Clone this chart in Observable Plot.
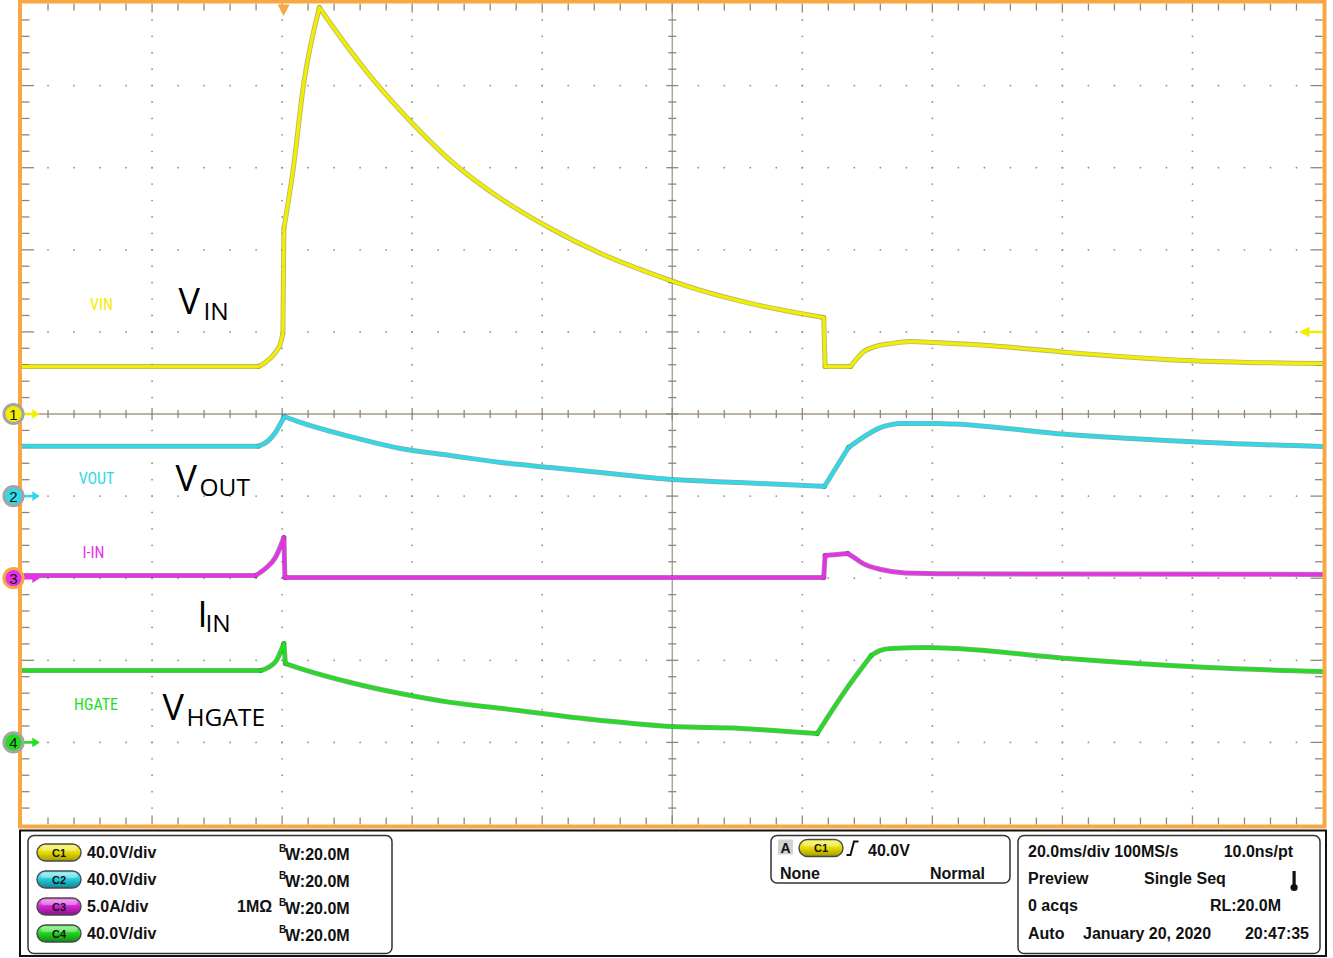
<!DOCTYPE html>
<html><head><meta charset="utf-8">
<script src="https://cdn.jsdelivr.net/npm/d3@7"></script>
<script src="https://cdn.jsdelivr.net/npm/@observablehq/plot@0.6"></script>
<style>
html,body{margin:0;padding:0;background:#fff;overflow:hidden;}
#wrap{width:1333px;height:958px;overflow:hidden;background:#fff;}
#wrap svg{display:block;}
</style></head><body><div id="wrap"></div>
<script>
// ---- Data (time in ms relative to trigger, values in V / A) ----
const vinT  = [-40, -3.65, -2.57, -1.03, -0.26, 0.12, 0.28, 1.74, 3.28, 5.74, 7.89, 13.1, 18.2, 25.9, 33.6, 41.3, 49.0, 56.7, 64.4, 72.0, 79.7, 83.3, 83.5, 87.4, 88.3, 89.3, 91.3, 93.6, 96.7, 100.4, 110.5, 120.8, 138.8, 160];
const vinV  = [23.1, 23.1, 25.1, 30.0, 34.3, 39.2, 90.4, 120.1, 160.0, 198.0, 188.3, 166.4, 147.8, 123.5, 105.0, 90.4, 78.2, 68.5, 60.2, 53.9, 49.0, 47.0, 23.1, 23.1, 26.6, 30.0, 32.9, 34.3, 35.3, 34.8, 32.9, 30.0, 26.1, 24.6];
const voutT = [-40, -3.65, -2.26, -1.03, 0.35, 2.82, 10.5, 18.2, 25.9, 33.6, 41.3, 49.0, 60.0, 70.5, 83.4, 87.1, 89.3, 92.0, 93.5, 95.0, 100.7, 120.8, 142.4, 160];
const voutV = [24.3, 24.3, 26.6, 31.0, 38.8, 35.9, 29.0, 23.2, 19.8, 16.4, 13.9, 11.5, 8.1, 6.6, 4.7, 23.7, 28.5, 33.4, 34.7, 35.4, 35.4, 30.0, 26.1, 24.2];
const iinT  = [-40, -4.1, -2.57, -1.03, 0.28, 0.43, 83.3, 83.5, 87.0, 88.0, 89.3, 92.1, 95.8, 102.8, 160];
const iinV  = [0.16, 0.16, 0.59, 1.26, 2.48, 0.04, 0.04, 1.38, 1.50, 1.25, 0.90, 0.53, 0.32, 0.27, 0.23];
const hgateT = [-40, -3.3, -2.1, -0.88, 0.28, 0.51, 2.82, 10.5, 18.2, 25.9, 33.6, 49.0, 60.0, 70.5, 82.3, 86.3, 90.6, 92.0, 93.6, 99.3, 103.6, 120.8, 142.4, 160];
const hgateV = [35.0, 35.0, 36.5, 39.9, 48.2, 38.4, 36.0, 29.2, 23.8, 19.5, 16.6, 10.7, 7.7, 6.8, 4.3, 23.8, 42.3, 44.8, 45.7, 46.2, 45.7, 40.9, 36.5, 34.5];
// indices of sharp corners (edges / peaks) in each trace
const vinBreaks   = [1, 5, 6, 9, 21, 22, 23];
const voutBreaks  = [1, 4, 14, 15];
const iinBreaks   = [1, 4, 5, 6, 7, 8];
const hgateBreaks = [1, 4, 5, 14, 16];

const channelIds    = [1, 2, 3, 4];
const channelNames  = ["VIN", "VOUT", "I-IN", "HGATE"];
const channelScales = [40, 40, 5, 40];        // units per division
const channelUnits  = ["V/div", "V/div", "A/div", "V/div"];
const channelOffset = [0, -1, -2, -4];        // ground marker position (div)
const channelColors = ["#f2ee00", "#2fd9e6", "#e632e6", "#22dd22"];
const channelDark   = ["#8c8a10", "#1d7f88", "#7a1a7a", "#157a15"];
const triggerLevel  = 40; // V on C1

// annotation labels
const smallLabels = [
  {text: "VIN",   t: -27.77, d: 1.261, c: 0},
  {text: "VOUT",  t: -28.54, d: -0.847, c: 1},
  {text: "I-IN",  t: -29.0,  d: -1.760, c: 2},
  {text: "HGATE", t: -28.62, d: -3.605, c: 3}
];
const bigMain = [
  {text: "V", t: -15.93, d: 1.224},
  {text: "V", t: -16.39, d: -0.932},
  {text: "I", t: -13.01, d: -2.600},
  {text: "V", t: -18.39, d: -3.733}
];
const bigSub = [
  {text: "IN",    t: -12.09, d: 1.139},
  {text: "OUT",   t: -12.70, d: -0.993},
  {text: "IN",    t: -11.78, d: -2.661},
  {text: "HGATE", t: -14.70, d: -3.806}
];

// ---- Geometry ----
const W = 1333, H = 829;
const mL = 21.5, mR = 11, mT = 3, mB = 5;
const xDom = [-40, 160], yDom = [-5, 5];
const pxX = (xDom[1]-xDom[0]) / (W - mL - mR);   // ms per pixel
const pxY = (yDom[1]-yDom[0]) / (H - mT - mB);   // div per pixel

function pieces(T, V, k, breaks) {
  const idx = [0, ...breaks, T.length - 1], out = [];
  for (let p = 0; p < idx.length - 1; p++)
    for (let i = idx[p]; i <= idx[p + 1]; i++)
      out.push({t: T[i], y: channelOffset[k] + V[i] / channelScales[k], z: p});
  return out;
}
const traces = [
  pieces(vinT, vinV, 0, vinBreaks),
  pieces(voutT, voutV, 1, voutBreaks),
  pieces(iinT, iinV, 2, iinBreaks),
  pieces(hgateT, hgateV, 3, hgateBreaks)
];

// grid
const xs = d3.range(0, 51).map(i => ({v: -40 + 4*i, major: i % 5 === 0, i}));
const ys = d3.range(0, 51).map(i => ({v: -5 + 0.2*i, major: i % 5 === 0, i}));
const dots = [];
for (const gx of xs) if (gx.major && gx.i !== 0 && gx.i !== 50 && gx.i !== 25)
  for (const gy of ys) if (gy.i !== 0 && gy.i !== 50) dots.push({x: gx.v, y: gy.v});
for (const gy of ys) if (gy.major && gy.i !== 0 && gy.i !== 50 && gy.i !== 25)
  for (const gx of xs) if (gx.i !== 0 && gx.i !== 50) dots.push({x: gx.v, y: gy.v});

const ticks = [];
for (const gx of xs) {
  if (gx.i === 0 || gx.i === 50) continue;
  const L = gx.major ? 6 : 4;
  ticks.push({x1: gx.v, x2: gx.v, y1: -L*pxY, y2: L*pxY});
  const E = gx.major ? 9 : 7;
  ticks.push({x1: gx.v, x2: gx.v, y1: 5, y2: 5 - E*pxY});
  ticks.push({x1: gx.v, x2: gx.v, y1: -5, y2: -5 + E*pxY});
}
for (const gy of ys) {
  if (gy.i === 0 || gy.i === 50) continue;
  const L = gy.major ? 6 : 4;
  ticks.push({y1: gy.v, y2: gy.v, x1: 60 - L*pxX, x2: 60 + L*pxX});
  const E = gy.major ? 12 : 7.5;
  ticks.push({y1: gy.v, y2: gy.v, x1: -40, x2: -40 + E*pxX});
  ticks.push({y1: gy.v, y2: gy.v, x1: 160, x2: 160 - E*pxX});
}

const channels = channelIds.map((n, k) => ({n, k, y: channelOffset[k]}));

// fixed-geometry glyphs (pixel units, independent of r)
const arrowRight = {draw(c) { c.moveTo(-7.5, -4.8); c.lineTo(0, 0); c.lineTo(-7.5, 4.8); c.closePath(); }};
const arrowLeft  = {draw(c) { c.moveTo(0, 0); c.lineTo(10.5, -5.2); c.lineTo(10.5, 5.2); c.closePath(); }};
const arrowDown  = {draw(c) { c.moveTo(-6, 0); c.lineTo(6, 0); c.lineTo(0, 11.5); c.closePath(); }};
const ring       = {draw(c) { c.moveTo(9.6, 0); c.arc(0, 0, 9.6, 0, 2 * Math.PI); c.closePath(); }};

const marks = [
  Plot.dot(dots, {x: "x", y: "y", r: 0.9, fill: "#928e84", stroke: null}),
  Plot.ruleX([60], {stroke: "#a39a88", strokeWidth: 1.3}),
  Plot.ruleY([0], {stroke: "#a39a88", strokeWidth: 1.3}),
  Plot.link(ticks, {x1: "x1", x2: "x2", y1: "y1", y2: "y2", stroke: "#8f8778", strokeWidth: 1.3}),
];
traces.forEach((data, k) => {
  marks.push(Plot.line(data, {x: "t", y: "y", z: "z", stroke: channelDark[k], strokeWidth: 5, strokeOpacity: 0.6, curve: "monotone-x"}));
  marks.push(Plot.line(data, {x: "t", y: "y", z: "z", stroke: channelColors[k], strokeWidth: 3.2, curve: "monotone-x"}));
});
marks.push(
  Plot.frame({stroke: "#f7a845", strokeWidth: 4, inset: -2}),
  // channel ground markers
  Plot.link(channels, {x1: () => -40 + 0.5*pxX, x2: () => -40 + 11*pxX, y1: "y", y2: "y", stroke: d => channelColors[d.k], strokeWidth: 2.6}),
  Plot.dot(channels, {x: () => -40, y: "y", dx: 17.8, symbol: arrowRight, r: 5, fill: d => channelColors[d.k], stroke: null}),
  Plot.dot(channels, {x: () => -40, y: "y", dx: -8.5, symbol: ring, r: 9, fill: d => channelColors[d.k],
    stroke: d => d.n === 3 ? "#f7a845" : "#a4a4a4", strokeWidth: 3}),
  Plot.text(channels, {x: () => -40, y: "y", dx: -8.5, dy: 1, text: d => String(d.n), fontSize: 15,
    fontFamily: "Liberation Sans, Arial, sans-serif", fill: "#111", lineAnchor: "middle"}),
  // trigger position marker
  Plot.dot([0], {x: d => d, y: () => 5, dy: 1, dx: 1.5, symbol: arrowDown, r: 5, fill: "#f7a845", stroke: null}),
  // trigger level arrow (C1)
  Plot.link([triggerLevel], {x1: () => 160 - 14*pxX, x2: () => 160, y1: d => channelOffset[0] + d/channelScales[0], y2: d => channelOffset[0] + d/channelScales[0], stroke: channelColors[0], strokeWidth: 2.4}),
  Plot.dot([triggerLevel], {x: () => 160, dx: -23.5, y: d => channelOffset[0] + d/channelScales[0], symbol: arrowLeft, r: 5, fill: channelColors[0], stroke: null}),
  // labels
  Plot.text(smallLabels, {x: "t", y: "d", text: "text", fill: d => channelColors[d.c], fontSize: 16,
    fontFamily: "'Liberation Sans Narrow', 'Arial Narrow', 'Roboto Condensed', sans-serif", textAnchor: "middle", lineAnchor: "bottom"}),
  Plot.text(bigMain, {x: "t", y: "d", text: "text", fill: "#000", fontSize: 36, fontFamily: "'Open Sans', 'Noto Sans', sans-serif", textAnchor: "start", lineAnchor: "bottom"}),
  Plot.text(bigSub, {x: "t", y: "d", text: "text", fill: "#000", fontSize: 24.5, fontFamily: "'Open Sans', 'Noto Sans', sans-serif", textAnchor: "start", lineAnchor: "bottom"})
);

const chart = Plot.plot({
  width: W, height: H,
  marginLeft: mL, marginRight: mR, marginTop: mT, marginBottom: mB,
  x: {domain: xDom, axis: null},
  y: {domain: yDom, axis: null},
  style: {background: "#fff", overflow: "visible"},
  marks
});
document.getElementById("wrap").appendChild(chart);

// ---- Status panel (below the chart) ----
const grad = [
  ["#fdf86a", "#e4da00", "#a29a00"],
  ["#9af2f8", "#22c8d8", "#0f8794"],
  ["#f48cf4", "#d024d0", "#8c108c"],
  ["#8cf48c", "#22d022", "#0f8a0f"]
];
const FONT = "font-family:'Liberation Sans',Arial,sans-serif;font-weight:bold;";
function pill(x, cy, k, label) {
  return `<rect x="${x}" y="${cy-8.5}" width="44" height="17" rx="8.5" fill="url(#g${k})" stroke="#4a4a4a" stroke-width="1.4"/>
  <rect x="${x+4}" y="${cy-6.5}" width="36" height="5" rx="2.5" fill="#fff" opacity="0.3"/>
  <text x="${x+22}" y="${cy+4}" text-anchor="middle" style="${FONT}font-size:11px" fill="#111">${label}</text>`;
}
function txt(x, y, s, anchor = "start", size = 16) {
  return `<text x="${x}" y="${y}" text-anchor="${anchor}" style="${FONT}font-size:${size}px" fill="#111">${s}</text>`;
}
let p = `<svg xmlns="http://www.w3.org/2000/svg" width="1333" height="129" viewBox="0 829 1333 129" style="display:block">
<defs>${grad.map((g, k) => `<linearGradient id="g${k}" x1="0" y1="0" x2="0" y2="1">
<stop offset="0" stop-color="${g[0]}"/><stop offset="0.5" stop-color="${g[1]}"/><stop offset="1" stop-color="${g[2]}"/></linearGradient>`).join("")}</defs>
<rect x="20" y="830.5" width="1306" height="125.5" fill="none" stroke="#111" stroke-width="2"/>
<rect x="28" y="835.5" width="364" height="118" rx="6" fill="none" stroke="#333" stroke-width="1.5"/>
<rect x="771" y="835.5" width="239" height="47.5" rx="6" fill="none" stroke="#333" stroke-width="1.5"/>
<rect x="1018" y="835.5" width="302" height="118" rx="6" fill="none" stroke="#333" stroke-width="1.5"/>`;
const rowsY = [852.5, 879.5, 906.5, 933.5];
channelIds.forEach((n, k) => {
  const cy = rowsY[k];
  p += pill(37, cy, k, "C" + n);
  p += txt(87, cy + 5.5, channelScales[k].toFixed(1) + channelUnits[k]);
  p += `<text x="279" y="${cy - 1}" style="${FONT}font-size:10px" fill="#111">B</text>`;
  p += txt(285, cy + 7, "W:20.0M");
  if (k === 2) p += txt(237, cy + 5.5, "1MΩ");
});
p += `<rect x="778" y="839.5" width="15" height="15" fill="#d2d2d2"/>`;
p += txt(785.5, 853, "A", "middle", 14);
p += pill(799, 848, 0, "C1");
p += `<path d="M846.5,855 L850.5,855 L854,841.5 L858.5,841.5" fill="none" stroke="#111" stroke-width="2"/>`;
p += txt(868, 856, triggerLevel.toFixed(1) + "V");
p += txt(780, 879, "None");
p += txt(985, 879, "Normal", "end");
p += txt(1028, 857, "20.0ms/div 100MS/s");
p += txt(1293, 857, "10.0ns/pt", "end");
p += txt(1028, 884, "Preview");
p += txt(1144, 884, "Single Seq");
p += `<rect x="1292.5" y="871" width="3.2" height="15" fill="#111"/><circle cx="1294.1" cy="887.5" r="3.6" fill="#111"/>`;
p += txt(1028, 911, "0 acqs");
p += txt(1281, 911, "RL:20.0M", "end");
p += txt(1028, 939, "Auto");
p += txt(1083, 939, "January 20, 2020");
p += txt(1309, 939, "20:47:35", "end");
p += `</svg>`;
const panel = document.createElement("div");
panel.innerHTML = p;
document.getElementById("wrap").appendChild(panel);
</script></body></html>
